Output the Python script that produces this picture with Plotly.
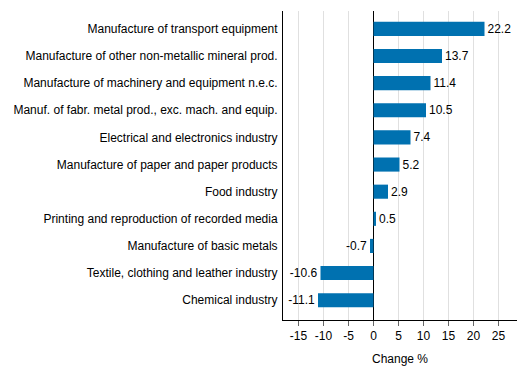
import plotly.graph_objects as go

categories = [
    "Chemical industry",
    "Textile, clothing and leather industry",
    "Manufacture of basic metals",
    "Printing and reproduction of recorded media",
    "Food industry",
    "Manufacture of paper and paper products",
    "Electrical and electronics industry",
    "Manuf. of fabr. metal prod., exc. mach. and equip.",
    "Manufacture of machinery and equipment n.e.c.",
    "Manufacture of other non-metallic mineral prod.",
    "Manufacture of transport equipment",
]
values = [-11.1, -10.6, -0.7, 0.5, 2.9, 5.2, 7.4, 10.5, 11.4, 13.7, 22.2]
x_ticks = [-15, -10, -5, 0, 5, 10, 15, 20, 25]

positions = list(range(len(categories)))
font = "Liberation Sans, Arial, sans-serif"

fig = go.Figure(
    go.Bar(
        x=values,
        y=positions,
        orientation="h",
        width=0.52,
        marker=dict(color="#0071b0", line=dict(width=0)),
        text=[f"{v:.1f}" for v in values],
        textposition="outside",
        textfont=dict(family=font, size=12, color="#000000"),
        cliponaxis=False,
        hoverinfo="skip",
    )
)

fig.update_layout(
    width=521,
    height=370,
    margin=dict(l=275, r=12, t=3, b=58),
    paper_bgcolor="white",
    plot_bgcolor="white",
    showlegend=False,
    font=dict(family=font, size=12, color="#000000"),
    xaxis=dict(
        range=[-18.1, 28.7],
        tickvals=x_ticks,
        ticktext=[str(t) for t in x_ticks],
        showgrid=True,
        gridcolor="#e0e0e0",
        gridwidth=1,
        zeroline=True,
        zerolinecolor="#000000",
        zerolinewidth=1,
        showline=True,
        linecolor="#000000",
        linewidth=1,
        ticks="outside",
        ticklen=5,
        tickcolor="#666666",
        tickfont=dict(family=font, size=12),
        title=dict(text="Change %", font=dict(family=font, size=12), standoff=12),
        automargin=False,
        fixedrange=True,
    ),
    yaxis=dict(
        range=[-0.73, 10.66],
        tickvals=positions,
        ticktext=categories,
        showgrid=False,
        zeroline=False,
        showline=True,
        linecolor="#000000",
        linewidth=1,
        ticks="",
        ticklabelstandoff=2,
        tickfont=dict(family=font, size=12),
        automargin=False,
        fixedrange=True,
    ),
)

fig.write_html("out.html")
